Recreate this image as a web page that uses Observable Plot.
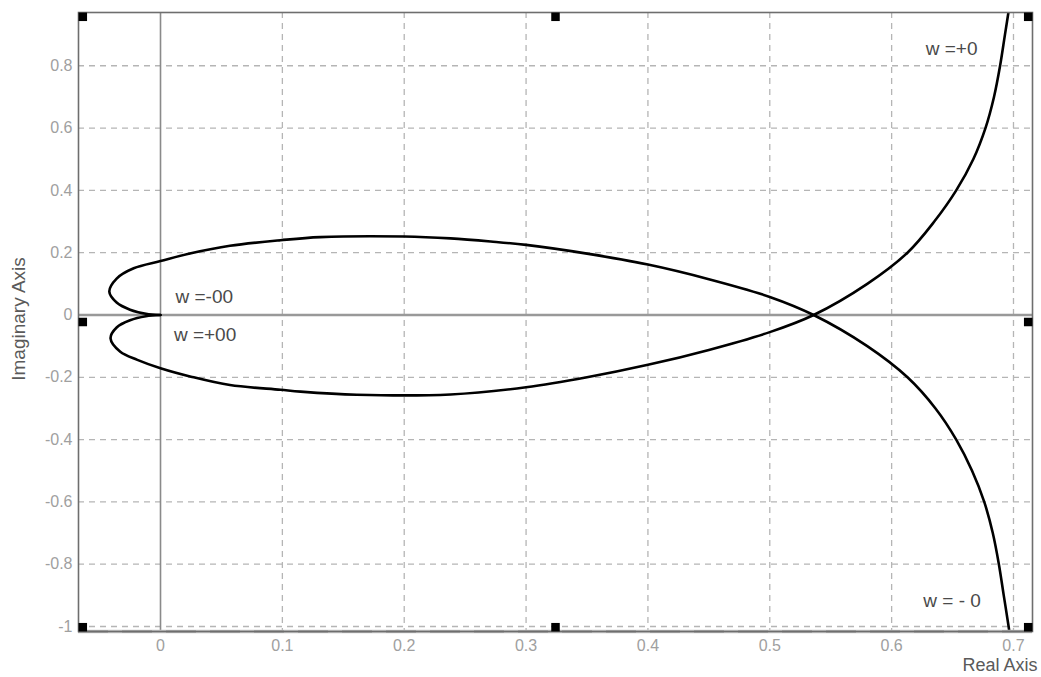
<!DOCTYPE html>
<html>
<head>
<meta charset="utf-8">
<script src="https://cdn.jsdelivr.net/npm/d3@7"></script>
<script src="https://cdn.jsdelivr.net/npm/@observablehq/plot@0.6"></script>
<style>
  html, body { margin: 0; padding: 0; background: #fff; }
</style>
</head>
<body>
<div id="chart"></div>
<script>
// Axis ranges and ticks
const xDomain = [-0.0673, 0.7156];
const yDomain = [-1.016, 0.971];
const xTicks = [0, 0.1, 0.2, 0.3, 0.4, 0.5, 0.6, 0.7];
const yTicks = [-1, -0.8, -0.6, -0.4, -0.2, 0, 0.2, 0.4, 0.6, 0.8];

// Branch A: upper lobe from the origin, crossing the real axis and running down to w = -0
const branchARe = [0, -0.012, -0.025, -0.036, -0.042, -0.036, -0.022, 0, 0.025, 0.057, 0.0985, 0.131, 0.2, 0.238, 0.271, 0.3, 0.35, 0.4, 0.45, 0.5, 0.536, 0.58, 0.613, 0.636, 0.653, 0.666, 0.676, 0.683, 0.688, 0.692, 0.696, 0.697];
const branchAIm = [0, 0.004, 0.017, 0.04, 0.075, 0.117, 0.15, 0.173, 0.198, 0.222, 0.24, 0.25, 0.252, 0.246, 0.236, 0.225, 0.197, 0.162, 0.115, 0.058, 0, -0.1, -0.2, -0.3, -0.4, -0.5, -0.6, -0.7, -0.8, -0.9, -1.0, -1.03];

// Branch B: lower lobe from the origin, crossing the real axis and running up to w = +0
const branchBRe = [0, -0.012, -0.025, -0.036, -0.041, -0.033, -0.019, 0, 0.025, 0.057, 0.0985, 0.115, 0.161, 0.238, 0.3, 0.35, 0.4, 0.45, 0.5, 0.536, 0.58, 0.613, 0.635, 0.653, 0.667, 0.677, 0.684, 0.689, 0.693, 0.697];
const branchBIm = [0, -0.004, -0.017, -0.04, -0.075, -0.118, -0.144, -0.171, -0.198, -0.225, -0.24, -0.246, -0.256, -0.255, -0.232, -0.2, -0.16, -0.112, -0.055, 0, 0.1, 0.2, 0.3, 0.4, 0.5, 0.6, 0.7, 0.8, 0.9, 1.0];

// Annotations
const noteText = ["w =+0", "w = - 0", "w =-00", "w =+00"];
const noteRe = [0.628, 0.626, 0.0123, 0.011];
const noteIm = [0.853, -0.918, 0.0565, -0.0654];

const toPoints = (re, im) => re.map((r, i) => ({re: r, im: im[i]}));
const branchA = toPoints(branchARe, branchAIm);
const branchB = toPoints(branchBRe, branchBIm);
const notes = noteText.map((t, i) => ({text: t, re: noteRe[i], im: noteIm[i]}));

// Selection handles at the corners and mid-edges of the axes box
const hx = [xDomain[0], (xDomain[0] + xDomain[1]) / 2, xDomain[1]];
const hy = [yDomain[1], (yDomain[0] + yDomain[1]) / 2, yDomain[0]];
const hdx = [4.3, 0, -4.3];
const hdy = [4.3, 0, -4.3];
const handleMarks = [];
for (let i = 0; i < 3; i++) {
  for (let j = 0; j < 3; j++) {
    if (i === 1 && j === 1) continue;
    handleMarks.push(Plot.dot([{re: hx[i], im: hy[j]}], {
      x: "re", y: "im", dx: hdx[i], dy: hdy[j],
      symbol: "square", r: 4.8, fill: "black", stroke: "none"
    }));
  }
}

const font = "'Liberation Sans', Arial, Helvetica, sans-serif";

const chart = Plot.plot({
  width: 1041,
  height: 677,
  marginLeft: 78,
  marginRight: 9,
  marginTop: 12,
  marginBottom: 46,
  style: {fontFamily: font, background: "white", color: "#9a9a9a", overflow: "visible"},
  x: {domain: xDomain},
  y: {domain: yDomain},
  marks: [
    Plot.gridX(xTicks.filter(d => d !== 0), {stroke: "#b5b5b5", strokeOpacity: 1, strokeDasharray: "6,5", strokeWidth: 1.3}),
    Plot.gridY(yTicks.filter(d => d !== 0), {stroke: "#b5b5b5", strokeOpacity: 1, strokeDasharray: "6,5", strokeWidth: 1.3}),
    Plot.ruleX([0], {stroke: "#8a8a8a", strokeWidth: 1.6}),
    Plot.ruleY([0], {stroke: "#999", strokeWidth: 2.6}),
    Plot.line(branchA, {x: "re", y: "im", curve: "catmull-rom", stroke: "black", strokeWidth: 2.6, clip: true}),
    Plot.line(branchB, {x: "re", y: "im", curve: "catmull-rom", stroke: "black", strokeWidth: 2.6, clip: true}),
    Plot.axisX(xTicks, {tickSize: 0, tickPadding: 8, fontSize: 16, fill: "#a0a0a0", label: null, tickFormat: d => String(d)}),
    Plot.axisY(yTicks, {tickSize: 0, tickPadding: 6, fontSize: 16, fill: "#a0a0a0", label: null, tickFormat: d => String(d)}),
    Plot.ruleY([yDomain[0]], {stroke: "#c8c8c8", strokeWidth: 3.5}),
    Plot.ruleY([yDomain[0]], {stroke: "#8c8c8c", strokeWidth: 2, strokeDasharray: "30,14"}),
    Plot.frame({stroke: "#6e6e6e", strokeWidth: 1.6}),
    Plot.text(notes, {x: "re", y: "im", text: "text", textAnchor: "start", fontSize: 19, fill: "#4a4a4a"}),
    Plot.text(["Imaginary Axis"], {text: d => d, frameAnchor: "left", dx: -60, dy: -3, rotate: -90, textAnchor: "middle", fontSize: 19, fill: "#5a5a5a"}),
    Plot.text(["Real Axis"], {text: d => d, frameAnchor: "bottom-right", dx: 5, dy: 39, textAnchor: "end", fontSize: 18, fill: "#5a5a5a"}),
    ...handleMarks
  ]
});
document.getElementById("chart").appendChild(chart);
</script>
</body>
</html>
